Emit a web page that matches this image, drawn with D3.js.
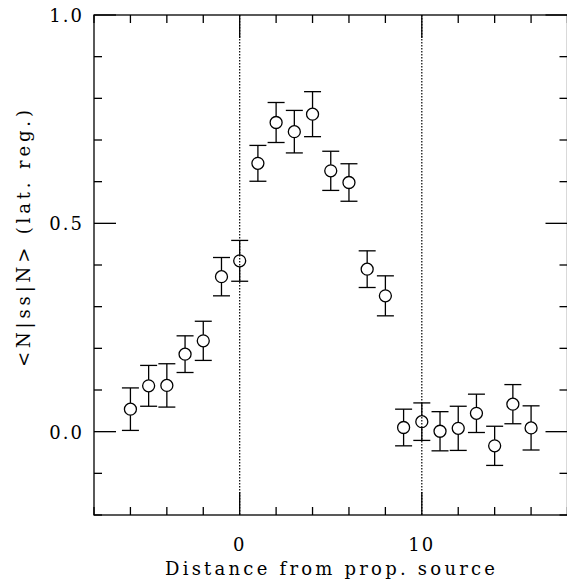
<!DOCTYPE html>
<html>
<head>
<meta charset="utf-8">
<script src="https://cdn.jsdelivr.net/npm/d3@7"></script>
<style>
  body { margin: 0; background: #fff; }
  text { font-family: "DejaVu Serif", "Liberation Serif", serif; fill: #000; }
</style>
</head>
<body>
<svg id="chart" width="567" height="581"></svg>
<script>
// distance from the propagator source, measured value and its error
let distance = [-6, -5, -4, -3, -2, -1, 0, 1, 2, 3, 4, 5, 6, 7, 8, 9, 10, 11, 12, 13, 14, 15, 16]
let value = [0.054, 0.110, 0.111, 0.186, 0.218, 0.372, 0.410, 0.644, 0.742, 0.720, 0.762, 0.626, 0.598,
             0.390, 0.326, 0.010, 0.024, 0.001, 0.008, 0.044, -0.034, 0.066, 0.009]
let error = [0.051, 0.049, 0.052, 0.044, 0.047, 0.046, 0.049, 0.043, 0.048, 0.051, 0.054, 0.047, 0.045,
             0.044, 0.048, 0.044, 0.045, 0.047, 0.053, 0.046, 0.047, 0.047, 0.053]
let x_labels = [0, 10]
let y_labels = [0.0, 0.5, 1.0]
let markers = [0, 10]

let points = distance.map((d, i) => ({ x: d, y: value[i], e: error[i] }))

let margin = { left: 94, right: 567.5, top: 15, bottom: 515 }
let x = d3.scaleLinear().domain([-8, 18]).range([margin.left, margin.right])
let y = d3.scaleLinear().domain([-0.2, 1.0]).range([margin.bottom, margin.top])

let svg = d3.select("#chart")

// dotted lines at the source and sink
svg.append("g")
  .selectAll("line")
  .data(markers).enter()
  .append("line")
  .attr("x1", d => x(d)).attr("x2", d => x(d))
  .attr("y1", margin.top).attr("y2", margin.bottom)
  .attr("stroke", "#000")
  .attr("stroke-width", 1.2)
  .attr("stroke-dasharray", "1.5,1.5")

// frame
svg.append("rect")
  .attr("x", margin.left).attr("y", margin.top)
  .attr("width", margin.right - margin.left)
  .attr("height", margin.bottom - margin.top)
  .attr("fill", "none").attr("stroke", "#000").attr("stroke-width", 1.3)

// ticks on all four sides
let xticks = d3.range(-8, 19, 2)
let yticks = d3.range(-2, 11).map(d => d / 10)
let is_major_x = d => d % 10 == 0
let is_major_y = d => Math.abs(d * 2 - Math.round(d * 2)) < 1e-6
let ticks = svg.append("g").attr("stroke", "#000").attr("stroke-width", 1.3)

xticks.forEach(d => {
  let len = is_major_x(d) ? 23 : 8
  ticks.append("line").attr("x1", x(d)).attr("x2", x(d)).attr("y1", margin.bottom).attr("y2", margin.bottom - len)
  ticks.append("line").attr("x1", x(d)).attr("x2", x(d)).attr("y1", margin.top).attr("y2", margin.top + len)
})
yticks.forEach(d => {
  let len = is_major_y(d) ? 22 : 8
  ticks.append("line").attr("y1", y(d)).attr("y2", y(d)).attr("x1", margin.left).attr("x2", margin.left + len)
  ticks.append("line").attr("y1", y(d)).attr("y2", y(d)).attr("x1", margin.right).attr("x2", margin.right - len)
})

// tick labels
svg.append("g")
  .selectAll("text")
  .data(x_labels).enter()
  .append("text")
  .attr("x", d => x(d))
  .attr("y", 551)
  .attr("text-anchor", "middle")
  .attr("font-size", 18)
  .attr("letter-spacing", 2)
  .text(d => d)

svg.append("g")
  .selectAll("text")
  .data(y_labels).enter()
  .append("text")
  .attr("x", 84)
  .attr("y", d => y(d) + 7)
  .attr("text-anchor", "end")
  .attr("font-size", 18)
  .attr("letter-spacing", 2)
  .text(d => d3.format(".1f")(d))

// axis titles
svg.append("text")
  .attr("x", 165).attr("y", 575)
  .attr("font-size", 18)
  .attr("textLength", 330)
  .attr("lengthAdjust", "spacing")
  .text("Distance from prop. source")

svg.append("text")
  .attr("transform", "translate(30,367) rotate(-90)")
  .attr("font-size", 18)
  .attr("textLength", 257)
  .attr("lengthAdjust", "spacing")
  .text("<N|ss|N> (lat. reg.)")

// error bars and open circles
let r = 6, cap = 8.5
let bars = svg.append("g").attr("stroke", "#000").attr("stroke-width", 1.3).attr("fill", "none")
  .selectAll("g")
  .data(points).enter()
  .append("g")

bars.append("line")
  .attr("x1", d => x(d.x)).attr("x2", d => x(d.x))
  .attr("y1", d => y(d.y + d.e)).attr("y2", d => y(d.y) - r)
bars.append("line")
  .attr("x1", d => x(d.x)).attr("x2", d => x(d.x))
  .attr("y1", d => y(d.y) + r).attr("y2", d => y(d.y - d.e))
bars.append("line")
  .attr("x1", d => x(d.x) - cap).attr("x2", d => x(d.x) + cap)
  .attr("y1", d => y(d.y + d.e)).attr("y2", d => y(d.y + d.e))
bars.append("line")
  .attr("x1", d => x(d.x) - cap).attr("x2", d => x(d.x) + cap)
  .attr("y1", d => y(d.y - d.e)).attr("y2", d => y(d.y - d.e))
bars.append("circle")
  .attr("cx", d => x(d.x)).attr("cy", d => y(d.y))
  .attr("r", r)
</script>
</body>
</html>
